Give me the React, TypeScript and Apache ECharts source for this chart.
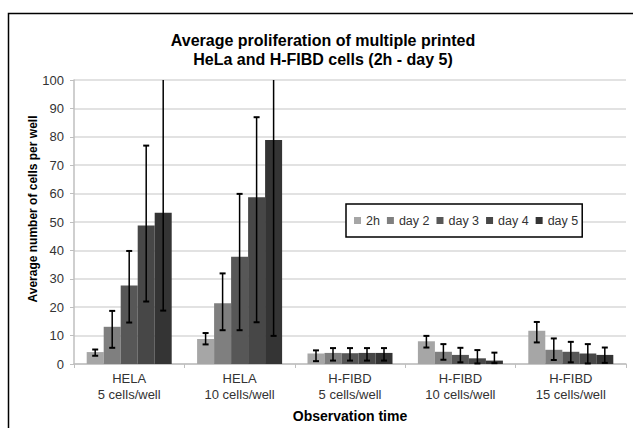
import React, { useEffect, useRef } from "react";
import * as echarts from "echarts";

const categories = [
  "HELA\n5 cells/well",
  "HELA\n10 cells/well",
  "H-FIBD\n5 cells/well",
  "H-FIBD\n10 cells/well",
  "H-FIBD\n15 cells/well",
];
const seriesNames = ["2h", "day 2", "day 3", "day 4", "day 5"];

const h2 = [4.2, 8.8, 3.7, 8.0, 11.7];
const day2 = [13.1, 21.4, 3.9, 4.3, 5.0];
const day3 = [27.6, 37.8, 3.8, 3.2, 4.3];
const day4 = [48.8, 58.7, 3.9, 2.0, 3.7];
const day5 = [53.3, 78.9, 3.9, 1.2, 3.2];

const h2Low = [2.9, 6.9, 1.0, 5.8, 7.6];
const h2High = [5.1, 10.9, 4.8, 9.9, 14.8];
const day2Low = [5.7, 11.9, 1.2, 1.5, 1.4];
const day2High = [18.7, 31.9, 5.6, 7.0, 9.0];
const day3Low = [14.6, 11.9, 1.2, 0.6, 0.6];
const day3High = [39.8, 59.9, 5.6, 5.7, 7.8];
const day4Low = [22.0, 14.7, 1.2, 0.2, 0.2];
const day4High = [76.9, 86.9, 5.6, 4.9, 7.0];
const day5Low = [18.8, 9.9, 1.2, 0.3, 0.4];
const day5High = [110, 148, 5.6, 4.0, 5.8];

const yTicks = [0, 10, 20, 30, 40, 50, 60, 70, 80, 90, 100];

const colors = ["#a6a6a6", "#7f7f7f", "#575757", "#474747", "#343434"];
const FONT = "Liberation Sans, Arial, sans-serif";
const Y_MIN = 0;
const Y_MAX = 100;
const CAT_GAP = 0.23;

export default function App() {
  const ref = useRef<HTMLDivElement>(null);
  useEffect(() => {
    if (!ref.current) return;
    const chart = echarts.init(ref.current, undefined, { renderer: "svg" });
    const values = [h2, day2, day3, day4, day5];
    const lows = [h2Low, day2Low, day3Low, day4Low, day5Low];
    const highs = [h2High, day2High, day3High, day4High, day5High];
    const N = values.length;
    const errData: number[][] = [];
    for (let s = 0; s < N; s++) {
      for (let c = 0; c < categories.length; c++) {
        errData.push([c, s, lows[s][c], highs[s][c]]);
      }
    }
    const option: any = {
      animation: false,
      backgroundColor: "#fff",
      textStyle: { fontFamily: FONT },
      graphic: [
        {
          type: "rect",
          z: -10,
          shape: { x: 8.5, y: 13.5, width: 700, height: 500 },
          style: { fill: "#fff", stroke: "#000", lineWidth: 1.5 },
        },
        {
          type: "text",
          x: 323,
          y: 40,
          style: {
            text: "Average proliferation of multiple printed",
            font: `bold 16px ${FONT}`,
            fill: "#000",
            textAlign: "center",
            textVerticalAlign: "middle",
          },
        },
        {
          type: "text",
          x: 323,
          y: 59,
          style: {
            text: "HeLa and H-FIBD cells (2h - day 5)",
            font: `bold 16px ${FONT}`,
            fill: "#000",
            textAlign: "center",
            textVerticalAlign: "middle",
          },
        },
        {
          type: "text",
          x: 33,
          y: 209,
          rotation: Math.PI / 2,
          style: {
            text: "Average number of cells per well",
            font: `bold 12px ${FONT}`,
            fill: "#000",
            textAlign: "center",
            textVerticalAlign: "middle",
          },
        },
      ],
      legend: {
        data: seriesNames,
        left: 346,
        top: 204,
        orient: "horizontal",
        icon: "rect",
        itemWidth: 7,
        itemHeight: 7,
        itemGap: 7,
        padding: [10, 4, 10, 8],
        borderColor: "#000",
        borderWidth: 1.5,
        backgroundColor: "#fff",
        textStyle: { fontSize: 12.5, color: "#333", fontFamily: FONT },
        z: 20,
      },
      grid: { left: 74, right: 7, top: 80, bottom: 63, containLabel: false },
      xAxis: {
        type: "category",
        data: categories,
        axisLine: { lineStyle: { color: "#bfbfbf", width: 1.5 } },
        axisTick: { show: true, length: 4, lineStyle: { color: "#bfbfbf" } },
        axisLabel: {
          fontSize: 13,
          color: "#333",
          fontFamily: FONT,
          lineHeight: 16,
          margin: 6,
        },
        name: "Observation time",
        nameLocation: "middle",
        nameGap: 45,
        nameTextStyle: { fontSize: 14, fontWeight: "bold", color: "#000", fontFamily: FONT },
      },
      yAxis: {
        type: "value",
        min: Y_MIN,
        max: Y_MAX,
        interval: yTicks[1] - yTicks[0],
        axisLine: { show: true, lineStyle: { color: "#bfbfbf", width: 1.5 } },
        axisTick: { show: true, length: 4, lineStyle: { color: "#bfbfbf" } },
        axisLabel: { fontSize: 13, color: "#333", fontFamily: FONT, margin: 10 },
        splitLine: { lineStyle: { color: "#d9d9d9", width: 1.5 } },
      },
      series: [
        ...values.map((v, i) => ({
          name: seriesNames[i],
          type: "bar",
          data: v,
          barGap: "0%",
          barCategoryGap: `${CAT_GAP * 100}%`,
          itemStyle: { color: colors[i] },
        })),
        {
          type: "custom",
          z: 10,
          data: errData,
          encode: { x: 0, y: [2, 3] },
          renderItem: (params: any, api: any) => {
            const c = api.value(0);
            const s = api.value(1);
            const lo = api.value(2);
            const hi = api.value(3);
            const band = api.size([1, 0])[0];
            const bw = (band * (1 - CAT_GAP)) / N;
            const cx = api.coord([c, 0])[0] + (s - (N - 1) / 2) * bw;
            const yLo = api.coord([c, Math.max(lo, Y_MIN)])[1];
            const yHi = api.coord([c, Math.min(hi, Y_MAX)])[1];
            const st = { stroke: "#000", lineWidth: 1.5 };
            const children: any[] = [
              { type: "line", shape: { x1: cx, y1: yLo, x2: cx, y2: yHi }, style: st },
            ];
            if (hi <= Y_MAX)
              children.push({ type: "line", shape: { x1: cx - 3, y1: yHi, x2: cx + 3, y2: yHi }, style: { stroke: "#000", lineWidth: 2 } });
            if (lo >= Y_MIN)
              children.push({ type: "line", shape: { x1: cx - 3, y1: yLo, x2: cx + 3, y2: yLo }, style: { stroke: "#000", lineWidth: 2 } });
            return { type: "group", children };
          },
        },
      ],
    };
    chart.setOption(option);
    return () => chart.dispose();
  }, []);
  return (
    <div
      ref={ref}
      style={{ position: "fixed", left: 0, top: 0, width: 633, height: 428 }}
    />
  );
}
